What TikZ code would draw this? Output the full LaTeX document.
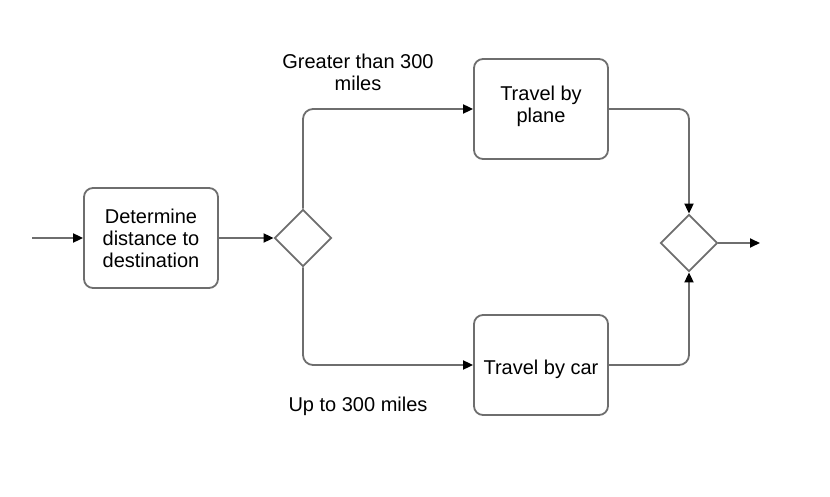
\documentclass[tikz,border=0pt]{standalone}
\usepackage{fontspec}
\setmainfont{Liberation Sans}
\usetikzlibrary{shapes.geometric,arrows.meta}
\definecolor{lineGray}{RGB}{110,110,110}

\tikzset{
  task/.style={draw=lineGray, line width=0.9pt, rounded corners=4.5pt, minimum width=67pt, minimum height=50pt, align=center, font=\fontsize{10}{11}\selectfont},
  gateway/.style={draw=lineGray, line width=0.9pt, diamond, inner sep=0pt, minimum width=28.5pt, minimum height=28.5pt},
  flow/.style={draw=lineGray, line width=0.9pt, rounded corners=5pt, -{Triangle[black,length=5pt,width=4.5pt]}},
  note/.style={align=center, font=\fontsize{10}{11}\selectfont}
}

\begin{document}
\begin{tikzpicture}[x=0.5pt,y=0.5pt,yscale=-1,xscale=1]
\useasboundingbox (0,0) rectangle (830,497);

%Start and end points
\coordinate (start) at (32,238);
\coordinate (finish) at (760,243);

%Rounded Rect: first task
\node[task] (measure) at (151,238) {Determine\\distance to\\destination};
%Diamond: split
\node[gateway] (split) at (303,238) {};
%Rounded Rect: plane
\node[task] (plane) at (541,109) {Travel by\\plane\rule[-5pt]{0pt}{0pt}};
%Rounded Rect: car
\node[task] (car) at (541,365) {\rule{0pt}{11.3pt}Travel by car};
%Diamond: merge
\node[gateway] (merge) at (689,243) {};

%Branch labels
\node[note] (farLabel) at (358,72) {Greater than 300\\miles};
\node[note] (nearLabel) at (358,406) {Up to 300 miles};

%Straight Lines
\draw[flow] (start) -- (measure);
\draw[flow] (measure) -- (split);
\draw[flow] (merge) -- (finish);
%Elbow Lines
\draw[flow] (split.north) |- (plane.west);
\draw[flow] (split.south) |- (car.west);
\draw[flow] (plane.east) -| (merge.north);
\draw[flow] (car.east) -| (merge.south);

\end{tikzpicture}
\end{document}
